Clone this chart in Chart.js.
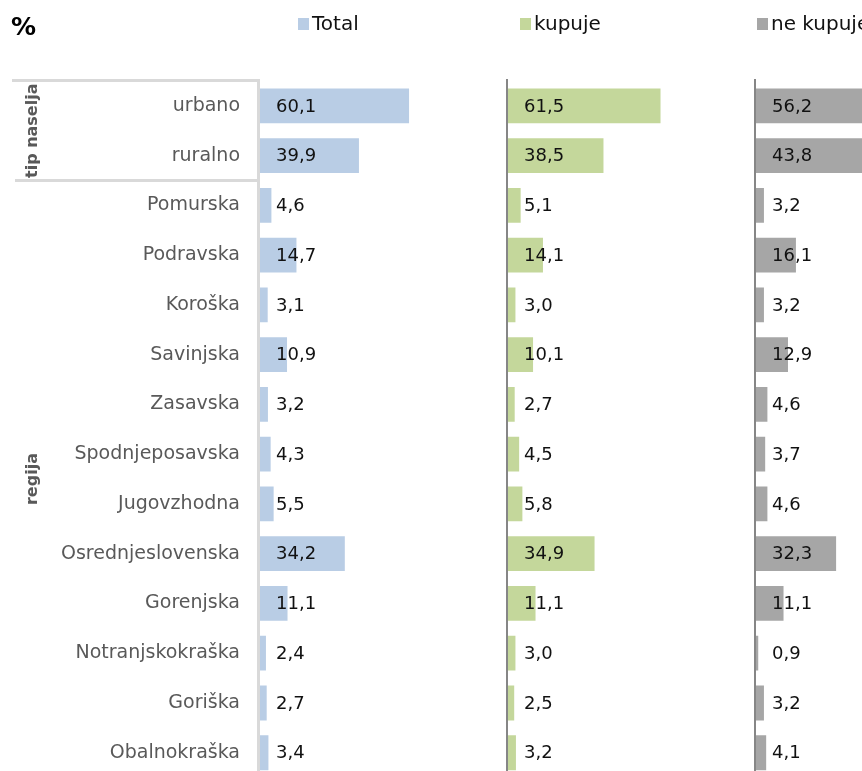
<!DOCTYPE html>
<html>
<head>
<meta charset="utf-8">
<title>Kupci po tipu naselja in regiji</title>
<script src="https://cdn.jsdelivr.net/npm/chart.js@4.4.1/dist/chart.umd.min.js"></script>
<style>
  html, body { margin: 0; padding: 0; background: #fff; overflow: hidden; }
  #wrap { position: relative; width: 862px; height: 771px; overflow: hidden; }
  #chart { position: absolute; left: 0; top: 0; }
</style>
</head>
<body>
<div id="wrap"><canvas id="chart" width="1004" height="809"></canvas></div>
<script>
const categories = [
  'urbano', 'ruralno', 'Pomurska', 'Podravska', 'Koroška', 'Savinjska', 'Zasavska',
  'Spodnjeposavska', 'Jugovzhodna', 'Osrednjeslovenska', 'Gorenjska',
  'Notranjskokraška', 'Goriška', 'Obalnokraška'
];
const total    = [60.1, 39.9, 4.6, 14.7, 3.1, 10.9, 3.2, 4.3, 5.5, 34.2, 11.1, 2.4, 2.7, 3.4];
const kupuje   = [61.5, 38.5, 5.1, 14.1, 3.0, 10.1, 2.7, 4.5, 5.8, 34.9, 11.1, 3.0, 2.5, 3.2];
const neKupuje = [56.2, 43.8, 3.2, 16.1, 3.2, 12.9, 4.6, 3.7, 4.6, 32.3, 11.1, 0.9, 3.2, 4.1];

// category groups shown as rotated labels on the left
const groupNames = ['tip naselja', 'regija'];
const groupSizes = [2, 12];

const seriesNames = ['Total', 'kupuje', 'ne kupuje'];

const FONT = '"DejaVu Sans", sans-serif';
const fmt = v => v.toFixed(1).replace('.', ',');

// one x axis per series, laid side by side in the same stack
const panelAxis = () => ({
  type: 'linear',
  position: 'bottom',
  stack: 'panels',
  stackWeight: 1,
  min: 0,
  max: 100,
  grid: { display: false, drawTicks: false },
  border: { display: false },
  ticks: { display: false },
  afterFit: s => { s.height = 0; }
});

const panelsPlugin = {
  id: 'panels',
  beforeDatasetsDraw(chart) {
    const ctx = chart.ctx;
    const y = chart.scales.y;
    const top = chart.chartArea.top - 2;
    const bottom = chart.chartArea.bottom;
    const x1 = chart.scales.x1.left;
    ctx.save();
    // light bracket around the first group and left border of the first panel
    ctx.strokeStyle = '#d9d9d9';
    ctx.lineWidth = 3;
    const split = y.getPixelForValue(groupSizes[0] - 0.5);
    ctx.beginPath();
    ctx.moveTo(12, top + 1.5);
    ctx.lineTo(x1 - 1.5, top + 1.5);
    ctx.lineTo(x1 - 1.5, bottom);
    ctx.moveTo(15, split);
    ctx.lineTo(x1 - 1.5, split);
    ctx.stroke();
    // dark axis lines of the other panels
    ctx.strokeStyle = '#868686';
    ctx.lineWidth = 2;
    ['x2', 'x3'].forEach(id => {
      const x = chart.scales[id].left - 1;
      ctx.beginPath();
      ctx.moveTo(x, top);
      ctx.lineTo(x, bottom);
      ctx.stroke();
    });
    ctx.restore();
  },
  afterDatasetsDraw(chart) {
    const ctx = chart.ctx;
    const y = chart.scales.y;
    ctx.save();

    // value labels, left aligned near each panel's zero line
    ctx.font = '18px ' + FONT;
    ctx.fillStyle = '#111';
    ctx.textAlign = 'left';
    ctx.textBaseline = 'middle';
    chart.data.datasets.forEach((ds, i) => {
      const meta = chart.getDatasetMeta(i);
      const x0 = chart.scales[ds.xAxisID].getPixelForValue(0);
      meta.data.forEach((bar, j) => {
        ctx.fillText(fmt(ds.data[j]), x0 + 16, bar.y + 1);
      });
    });

    // rotated group labels
    ctx.font = 'bold 16px ' + FONT;
    ctx.fillStyle = '#595959';
    ctx.textAlign = 'center';
    let start = 0;
    groupNames.forEach((name, g) => {
      const end = start + groupSizes[g] - 1;
      const cy = (y.getPixelForValue(start - 0.5) + y.getPixelForValue(end + 0.5)) / 2;
      ctx.save();
      ctx.translate(33, cy);
      ctx.rotate(-Math.PI / 2);
      ctx.fillText(name, 0, 0);
      ctx.restore();
      start = end + 1;
    });

    // unit mark
    ctx.font = 'bold 25px ' + FONT;
    ctx.fillStyle = '#000';
    ctx.textAlign = 'left';
    ctx.textBaseline = 'alphabetic';
    ctx.fillText('%', 11, 35);

    // legend, one entry above each panel
    const legendX = [298, 520, 757];
    ctx.font = '20px ' + FONT;
    ctx.textBaseline = 'middle';
    chart.data.datasets.forEach((ds, i) => {
      ctx.fillStyle = ds.backgroundColor;
      ctx.fillRect(legendX[i], 18, 11, 12);
      ctx.fillStyle = '#111';
      ctx.fillText(ds.label, legendX[i] + 14, 25);
    });
    ctx.restore();
  }
};

const barStyle = { grouped: false, categoryPercentage: 1, barPercentage: 0.7, yAxisID: 'y' };

new Chart(document.getElementById('chart'), {
  type: 'bar',
  data: {
    labels: categories,
    datasets: [
      { ...barStyle, label: seriesNames[0], data: total, xAxisID: 'x1', backgroundColor: '#b9cde5' },
      { ...barStyle, label: seriesNames[1], data: kupuje, xAxisID: 'x2', backgroundColor: '#c4d79b' },
      { ...barStyle, label: seriesNames[2], data: neKupuje, xAxisID: 'x3', backgroundColor: '#a6a6a6' }
    ]
  },
  options: {
    indexAxis: 'y',
    responsive: false,
    animation: false,
    layout: { padding: { top: 81, bottom: 13, left: 0, right: 0 } },
    plugins: {
      legend: { display: false },
      tooltip: { enabled: false }
    },
    scales: {
      y: {
        grid: { display: false, drawTicks: false },
        border: { display: false },
        ticks: { color: '#595959', padding: 20, font: { family: FONT, size: 19 } },
        afterFit: s => { s.width = 260; }
      },
      x1: panelAxis(),
      x2: panelAxis(),
      x3: panelAxis()
    }
  },
  plugins: [panelsPlugin]
});
</script>
</body>
</html>
